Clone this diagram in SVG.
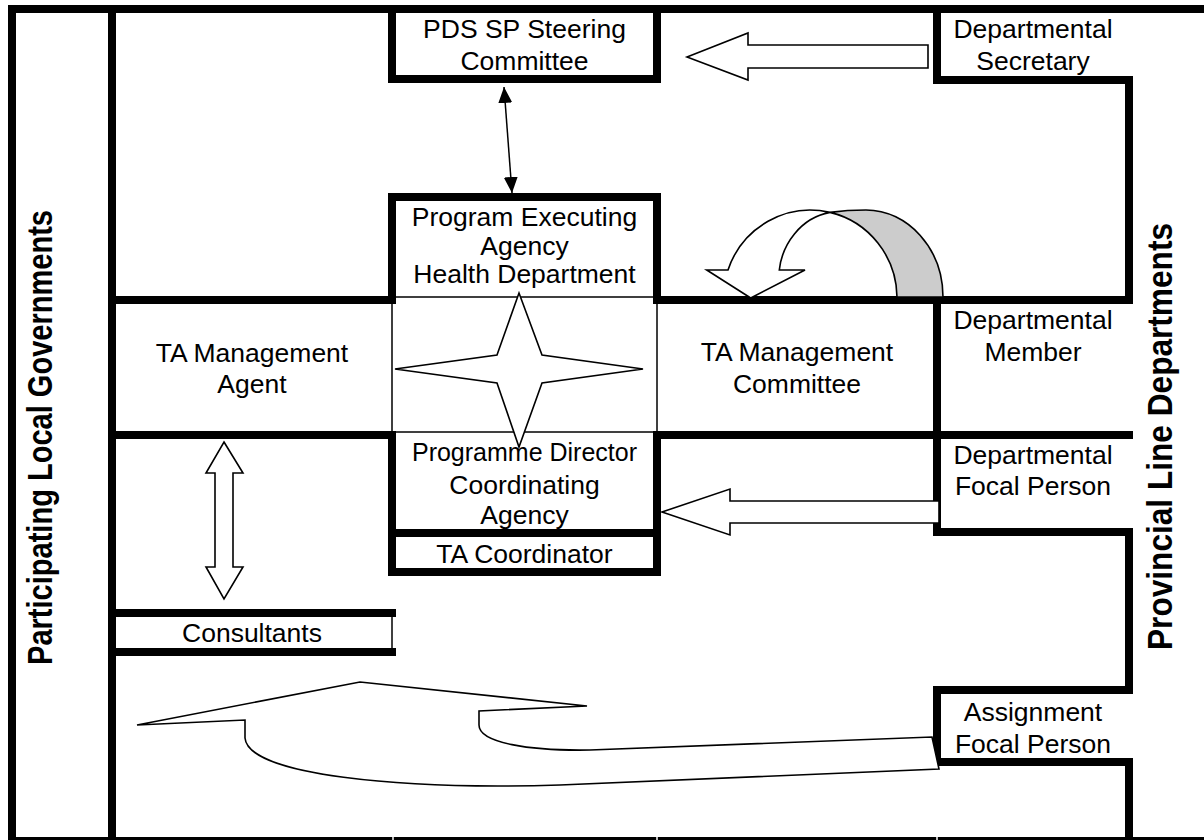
<svg xmlns="http://www.w3.org/2000/svg" width="1204" height="840" viewBox="0 0 1204 840">
<defs>
<style>
.thick{stroke:#000;stroke-width:8;fill:none;stroke-linecap:square;stroke-linejoin:miter}
.thin{stroke:#000;stroke-width:1.5;fill:none}
.shape{stroke:#000;stroke-width:1.6;fill:#fff;stroke-linejoin:miter}
.gray{stroke:#000;stroke-width:1.6;fill:#ccc}
.t{font-family:"Liberation Sans",Arial,sans-serif;font-size:26.5px;fill:#000;text-anchor:middle}
.v{font-family:"Liberation Sans",Arial,sans-serif;font-weight:bold;font-size:27px;fill:#000;text-anchor:middle}
</style>
<marker id="ah" viewBox="0 0 16 14" refX="16" refY="7" markerWidth="16" markerHeight="14" markerUnits="userSpaceOnUse" orient="auto-start-reverse">
<path d="M0,0 L16,7 L0,14 Z" fill="#000"/>
</marker>
</defs>
<rect width="1204" height="840" fill="#fff"/>

<g id="frame">
<path class="thick" d="M12,841 V9 H1210"/>
<path class="thick" d="M12,841 H1210"/>
<path class="thick" d="M112,9 V841"/>
<path class="thick" d="M392,9 V79 H657 V9"/>
<path class="thick" d="M937,9 V80 H1129 V300"/>
<path class="thick" d="M112,300 H392 M657,300 H1129"/>
<path class="thick" d="M392,300 V197 H657 V300"/>
<path class="thick" d="M112,435 H392 M657,435 H1129"/>
<path class="thick" d="M937,300 V532 H1129 V690 H937 V762 H1129 V841"/>
<path class="thick" d="M392,435 V572 H657 V435 M392,533 H657"/>
<path class="thick" d="M112,613 H392 M112,652 H392"/>
<rect class="thin" x="392" y="297" width="265" height="135"/>
<path class="thin" d="M392,613 V652"/>
<path d="M393,836 V840 M657,836 V840 M937,836 V840" stroke="#fff" stroke-width="1.5"/>
</g>

<g id="connectors">
<line x1="504" y1="87" x2="512" y2="193" stroke="#000" stroke-width="1.5" marker-start="url(#ah)" marker-end="url(#ah)"/>
<polygon id="arrow-secretary" class="shape" points="687,57 748,33 748,45 928,45 928,68 748,68 748,80"/>
<path id="curved-member-back" class="gray" d="M830,212.4 A87,88 0 0 1 897,297 L943,297 C943,249 908,210 866,210 C852,210 840,211 830,212.4 Z"/>
<path id="curved-member-front" class="shape" d="M706.7,270 L728,270 A87,88 0 0 1 830,212.4 C800,218 782,245 779.3,270 L805,270 L750.7,298 Z"/>
<polygon id="arrow-focal" class="shape" points="662,512 730,489 730,501 939,501 939,523 730,523 730,535"/>
<polygon id="arrow-consultants" class="shape" points="224,442 243,473 233,473 233,567 243,567 224,599 206,567 215,567 215,473 206,473"/>
<path id="arrow-assignment" class="shape" d="M137,725 L360,682 L587,706 L479,711 L479,725 C479,743 530,751 590,750 L932,737 L939,769 L560,785 C400,790 248,775 245,738 L245,720 Z"/>
<polygon id="star" class="shape" points="519,293 542,355 643,369 542,383 519,447 497,383 395,369 497,355"/>
</g>

<g id="node-local-gov">
<text class="v" transform="translate(52,437.5) rotate(-90) scale(1,1.3)" x="0" y="0" textLength="455" lengthAdjust="spacingAndGlyphs">Participating Local Governments</text>
</g>
<g id="node-provincial">
<text class="v" transform="translate(1172,436.5) rotate(-90) scale(1,1.3)" x="0" y="0" textLength="427" lengthAdjust="spacingAndGlyphs">Provincial Line Departments</text>
</g>
<g id="node-steering">
<text class="t" x="524.5" y="38">PDS SP Steering</text>
<text class="t" x="524.5" y="70">Committee</text>
</g>
<g id="node-secretary">
<text class="t" x="1033" y="37.5">Departmental</text>
<text class="t" x="1033" y="70">Secretary</text>
</g>
<g id="node-executing">
<text class="t" x="524.5" y="226">Program Executing</text>
<text class="t" x="524.5" y="254.5">Agency</text>
<text class="t" x="524.5" y="283">Health Department</text>
</g>
<g id="node-agent">
<text class="t" x="252" y="361.5">TA Management</text>
<text class="t" x="252" y="393">Agent</text>
</g>
<g id="node-committee">
<text class="t" x="797" y="361">TA Management</text>
<text class="t" x="797" y="393">Committee</text>
</g>
<g id="node-member">
<text class="t" x="1033" y="328.5">Departmental</text>
<text class="t" x="1033" y="361">Member</text>
</g>
<g id="node-director">
<text class="t" x="524.5" y="461" style="font-size:25px">Programme Director</text>
<text class="t" x="524.5" y="494">Coordinating</text>
<text class="t" x="524.5" y="524">Agency</text>
</g>
<g id="node-coordinator">
<text class="t" x="524.5" y="562.5">TA Coordinator</text>
</g>
<g id="node-focal">
<text class="t" x="1033" y="463.5">Departmental</text>
<text class="t" x="1033" y="495">Focal Person</text>
</g>
<g id="node-consultants">
<text class="t" x="252" y="641.5">Consultants</text>
</g>
<g id="node-assignment">
<text class="t" x="1033" y="720.5">Assignment</text>
<text class="t" x="1033" y="752.5">Focal Person</text>
</g>
</svg>
